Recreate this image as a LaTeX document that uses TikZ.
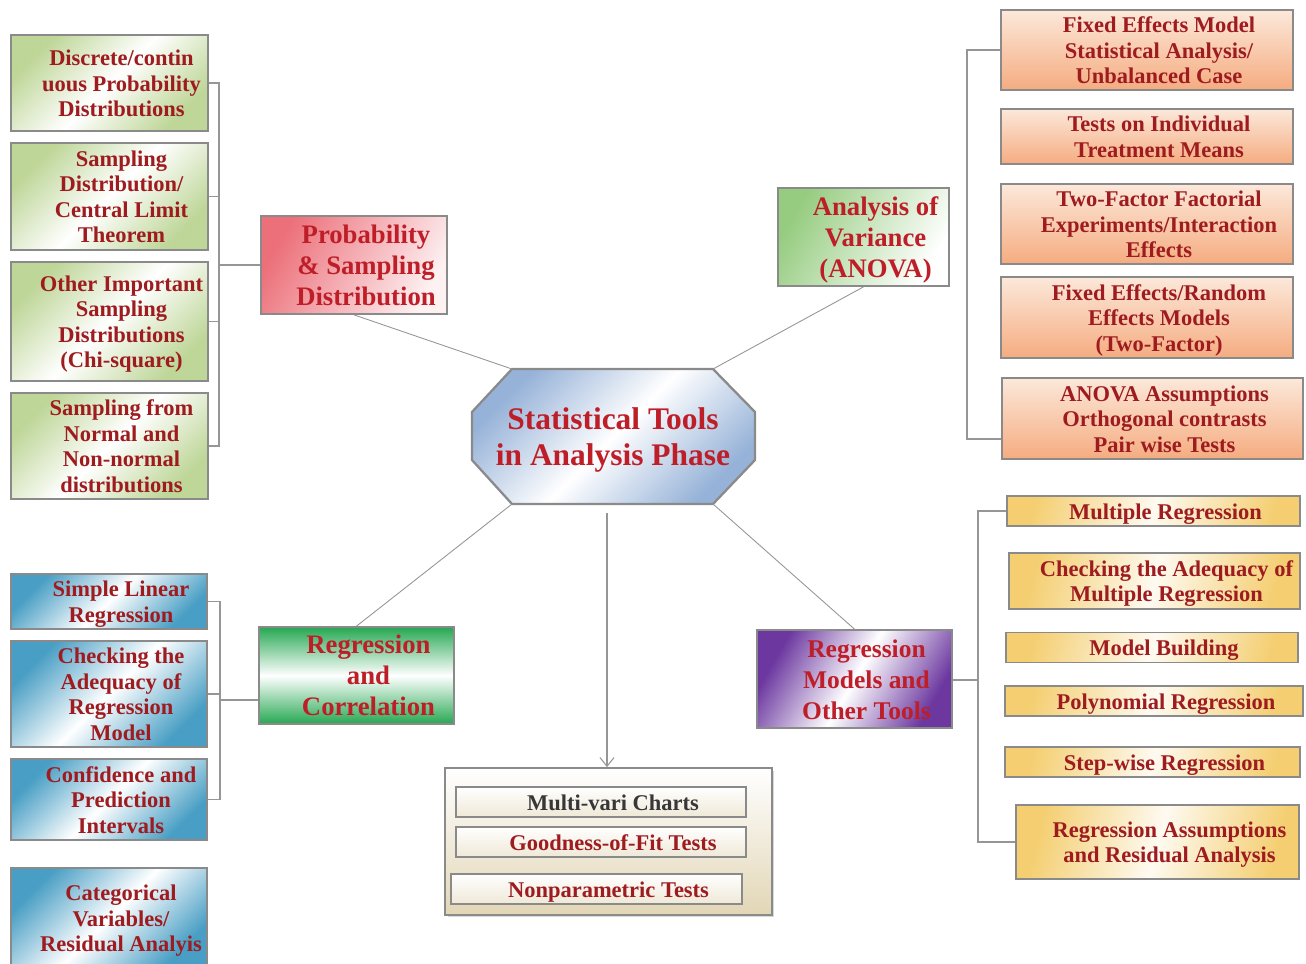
\documentclass[tikz,border=0pt]{standalone}
\usepackage{fontspec}
\setmainfont{Liberation Serif}
\usepackage{tikz}
\usetikzlibrary{arrows.meta,shadows}

\definecolor{txtred}{RGB}{158,27,32}
\definecolor{rootred}{RGB}{190,30,40}
\definecolor{txtgray}{RGB}{55,55,55}
\definecolor{boxline}{RGB}{138,138,138}
\definecolor{linegray}{RGB}{150,150,150}
\definecolor{leafgreen}{RGB}{190,214,152}
\definecolor{anovagreen}{RGB}{150,204,128}
\definecolor{psdred}{RGB}{236,112,122}
\definecolor{orangeL}{RGB}{252,232,218}
\definecolor{orangeD}{RGB}{245,172,128}
\definecolor{blueleaf}{RGB}{72,158,196}
\definecolor{rcgreen}{RGB}{38,168,82}
\definecolor{rmpurple}{RGB}{108,56,160}
\definecolor{yelleaf}{RGB}{244,206,112}
\definecolor{octblue}{RGB}{150,178,216}
\definecolor{beige}{RGB}{226,214,182}

\pgfdeclarehorizontalshading{bandgreen}{100bp}{color(0bp)=(leafgreen); color(25bp)=(leafgreen); color(50bp)=(white); color(75bp)=(leafgreen); color(100bp)=(leafgreen)}
\pgfdeclarehorizontalshading{bandblue}{100bp}{color(0bp)=(blueleaf); color(25bp)=(blueleaf); color(50bp)=(white); color(75bp)=(blueleaf); color(100bp)=(blueleaf)}
\pgfdeclarehorizontalshading{bandyellow}{100bp}{color(0bp)=(yelleaf); color(25bp)=(yelleaf); color(50bp)=(white!90!yelleaf); color(75bp)=(yelleaf); color(100bp)=(yelleaf)}
\pgfdeclarehorizontalshading{bandrc}{100bp}{color(0bp)=(rcgreen); color(25bp)=(rcgreen); color(50bp)=(white); color(75bp)=(rcgreen); color(100bp)=(rcgreen)}
\pgfdeclarehorizontalshading{bandpurple}{100bp}{color(0bp)=(rmpurple); color(25bp)=(rmpurple); color(50bp)=(white); color(75bp)=(rmpurple); color(100bp)=(rmpurple)}
\pgfdeclarehorizontalshading{bandoct}{100bp}{color(0bp)=(octblue); color(25bp)=(octblue); color(50bp)=(white); color(75bp)=(octblue); color(100bp)=(octblue)}

% box text sits a little right of (and below) the box centre
\newcommand{\boxlines}[1]{\hspace*{0.48cm}\raisebox{-0.06cm}[\height][\depth]{\begin{tabular}{@{}c@{}}#1\end{tabular}}}

\tikzset{
  box/.style={draw=boxline, line width=1pt, inner sep=0pt},
  leaf/.style={box, text=txtred, font=\fontsize{12.8}{14.5}\selectfont\bfseries},
  mid/.style={box, text=rootred, font=\fontsize{15.2}{17.6}\selectfont\bfseries},
  greenleaf/.style={leaf, shade, shading=bandgreen, shading angle=-45, minimum width=3.94cm},
  blueleaf/.style={leaf, shade, shading=bandblue, shading angle=-45, minimum width=3.92cm},
  orangeleaf/.style={leaf, top color=orangeL, bottom color=orangeD, minimum width=5.84cm},
  yellowleaf/.style={leaf, shade, shading=bandyellow, shading angle=-15, minimum height=0.6cm},
  toolbox/.style={leaf, top color=white, bottom color=beige!55, minimum width=5.8cm, minimum height=0.6cm},
  link/.style={draw=linegray, line width=0.8pt},
  spoke/.style={draw=linegray, line width=0.5pt}
}

\begin{document}
\begin{tikzpicture}[x=0.02cm,y=-0.02cm]
  \path[use as bounding box, fill=white] (0,0) rectangle (1306,964);

  % Centre
  \coordinate (ctl) at (512,369);
  \coordinate (ctr) at (713,369);
  \coordinate (cbl) at (512,504);
  \coordinate (cbr) at (713,504);
  \draw[draw=boxline, line width=1.3pt, shade, shading=bandoct, shading angle=-45]
    (ctl) -- (ctr) -- (755,412) -- (755,460) -- (cbr) -- (cbl) -- (472,460) -- (472,412) -- cycle;
  \node[text=rootred, align=center, font=\fontsize{17.9}{21}\selectfont\bfseries] (root) at (613,440)
    {Statistical Tools\\in Analysis Phase};

  % Probability & Sampling
  \node[mid, left color=psdred, right color=white!90!psdred, shading angle=60,
    minimum width=3.72cm, minimum height=1.96cm] (psd) at (354,265) {\boxlines{Probability\\\& Sampling\\Distribution}};
  \node[greenleaf, minimum height=1.92cm] (g1) at (109.5,83) {\boxlines{Discrete/contin\\uous Probability\\Distributions}};
  \node[greenleaf, minimum height=2.14cm] (g2) at (109.5,196.5) {\boxlines{Sampling\\Distribution/\\Central Limit\\Theorem}};
  \node[greenleaf, minimum height=2.38cm] (g3) at (109.5,321.5) {\boxlines{Other Important\\Sampling\\Distributions\\(Chi-square)}};
  \node[greenleaf, minimum height=2.12cm] (g4) at (109.5,446) {\boxlines{Sampling from\\Normal and\\Non-normal\\distributions}};
  \coordinate (gbus) at (219,265);
  \foreach \n in {g1,g2,g3,g4}
    \draw[link] (\n.east) -| (gbus);
  \draw[link] (gbus) -- (psd.west);
  \draw[spoke] (psd.south) -- (ctl);

  % ANOVA
  \node[mid, left color=anovagreen, right color=white, shading angle=60,
    minimum width=3.42cm, minimum height=1.96cm] (anova) at (863.5,237) {\boxlines{Analysis of\\Variance\\(ANOVA)}};
  \node[orangeleaf, minimum height=1.6cm] (o1) at (1147,50) {\boxlines{Fixed Effects Model\\Statistical Analysis/\\Unbalanced Case}};
  \node[orangeleaf, minimum height=1.1cm] (o2) at (1147,136.5) {\boxlines{Tests on Individual\\Treatment Means}};
  \node[orangeleaf, minimum height=1.6cm] (o3) at (1147,224) {\boxlines{Two-Factor Factorial\\Experiments/Interaction\\Effects}};
  \node[orangeleaf, minimum height=1.62cm] (o4) at (1147,317.5) {\boxlines{Fixed Effects/Random\\Effects Models\\(Two-Factor)}};
  \node[orangeleaf, minimum width=6.02cm, minimum height=1.62cm] (o5) at (1152.5,418.5) {\boxlines{ANOVA Assumptions\\Orthogonal contrasts\\Pair wise Tests}};
  \coordinate (obus) at (967,439);
  \draw[link] (o1.west) -| (obus) -- (o5.west |- obus);
  \draw[spoke] (anova.south) -- (ctr);

  % Regression and Correlation
  \node[mid, shade, shading=bandrc, shading angle=90,
    minimum width=3.9cm, minimum height=1.94cm] (rc) at (356.5,675.5) {\boxlines{Regression\\and\\Correlation}};
  \node[blueleaf, minimum height=1.1cm] (b1) at (109,601.5) {\boxlines{Simple Linear\\Regression}};
  \node[blueleaf, minimum height=2.12cm] (b2) at (109,694) {\boxlines{Checking the\\Adequacy of\\Regression\\Model}};
  \node[blueleaf, minimum height=1.62cm] (b3) at (109,799.5) {\boxlines{Confidence and\\Prediction\\Intervals}};
  \node[blueleaf, minimum height=2cm] (b4) at (109,918) {\boxlines{Categorical\\Variables/\\Residual Analyis}};
  \coordinate (rbus) at (220,700);
  \foreach \n in {b1,b2,b3}
    \draw[link] (\n.east) -| (rbus);
  \draw[link] (rbus) -- (rc.west |- rbus);
  \draw[spoke] (rc.north) -- (cbl);

  % Regression Models and Other Tools
  \node[mid, shade, shading=bandpurple, shading angle=-30, font=\fontsize{14.5}{17.6}\selectfont\bfseries,
    minimum width=3.9cm, minimum height=1.96cm] (rm) at (854.5,679) {\boxlines{Regression\\Models and\\Other Tools}};
  \node[yellowleaf, minimum width=5.86cm] (y1) at (1153.5,511) {\boxlines{Multiple Regression}};
  \node[yellowleaf, minimum width=5.82cm, minimum height=1.12cm] (y2) at (1154.5,581) {\boxlines{Checking the Adequacy of\\Multiple Regression}};
  \node[yellowleaf, minimum width=5.84cm] (y3) at (1152,647.5) {\boxlines{Model Building}};
  \node[yellowleaf, minimum width=5.96cm] (y4) at (1154,701) {\boxlines{Polynomial Regression}};
  \node[yellowleaf, minimum width=5.9cm] (y5) at (1152.5,762) {\boxlines{Step-wise Regression}};
  \node[yellowleaf, minimum width=5.66cm, minimum height=1.48cm] (y6) at (1157.5,842) {\boxlines{Regression Assumptions\\and Residual Analysis}};
  \coordinate (ybus) at (978,680);
  \draw[link] (y1.west) -| (ybus) |- (y6.west);
  \draw[link] (rm.east |- ybus) -- (ybus);
  \draw[spoke] (rm.north) -- (cbr);

  % Other tools
  \node[box, top color=white, bottom color=beige, minimum width=6.54cm, minimum height=2.94cm,
    drop shadow={shadow xshift=0.05cm, shadow yshift=-0.05cm, opacity=0.3}] (tools) at (608.5,841.5) {};
  \node[toolbox, text=txtgray] (m1) at (601,802) {\boxlines{Multi-vari Charts}};
  \node[toolbox] (m2) at (601,842) {\boxlines{Goodness-of-Fit Tests}};
  \node[toolbox, minimum width=5.82cm] (m3) at (596.5,889) {\boxlines{Nonparametric Tests}};
  \coordinate (arrtop) at (607,513);
  \draw[link, line width=0.6pt, -{Straight Barb[length=5pt,width=8pt]}] (arrtop) -- (tools.north -| arrtop);
\end{tikzpicture}
\end{document}
